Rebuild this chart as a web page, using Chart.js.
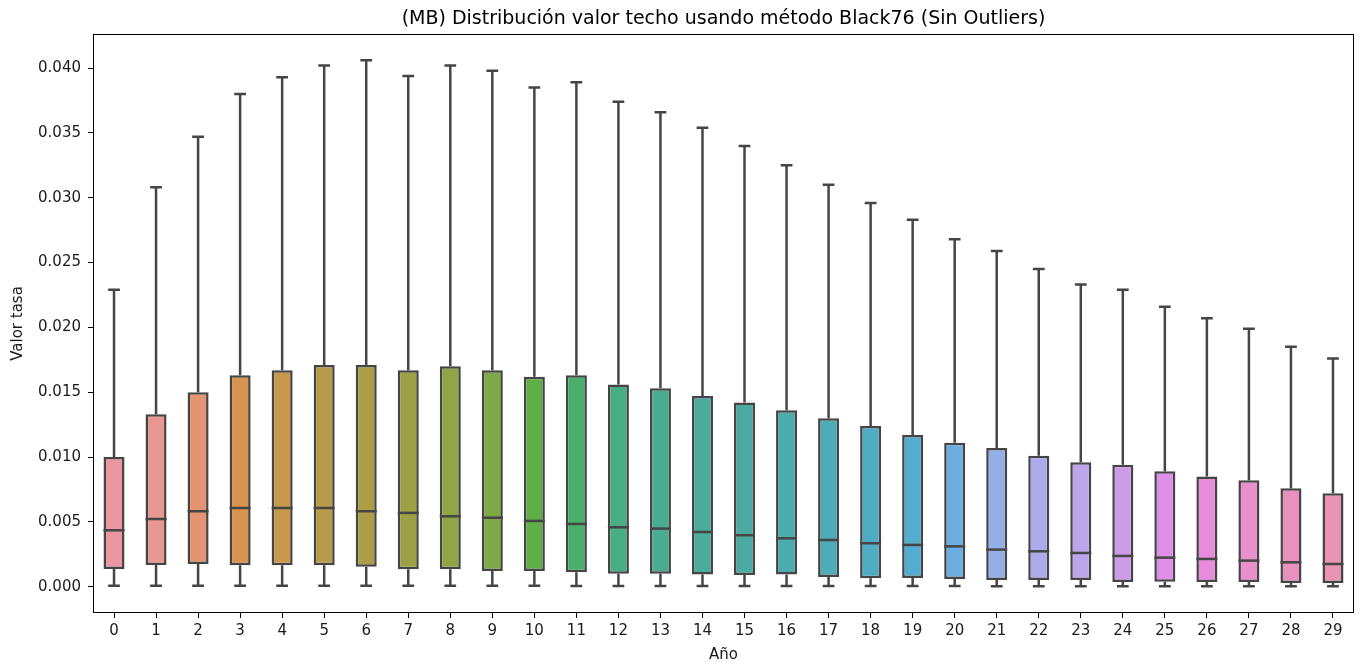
<!DOCTYPE html>
<html><head><meta charset="utf-8">
<script src="https://cdn.jsdelivr.net/npm/chart.js@4.4.1/dist/chart.umd.min.js"></script>
<style>html,body{margin:0;padding:0;background:#fff;}</style>
</head><body>
<canvas id="c" width="1360" height="667"></canvas>
<script>
// ---------------- DATA ----------------
const years = ['0','1','2','3','4','5','6','7','8','9','10','11','12','13','14','15','16','17','18','19','20','21','22','23','24','25','26','27','28','29'];
const whiskerHigh = [0.0229,0.0308,0.0347,0.0380,0.0393,0.0402,0.0406,0.0394,0.0402,0.0398,0.0385,0.0389,0.0374,0.0366,0.0354,0.0340,0.0325,0.0310,0.0296,0.0283,0.0268,0.0259,0.0245,0.0233,0.0229,0.0216,0.0207,0.0199,0.0185,0.0176];
const q3 = [0.0100,0.0133,0.0150,0.0163,0.0167,0.0171,0.0171,0.0167,0.0170,0.0167,0.0162,0.0163,0.0156,0.0153,0.0147,0.0142,0.0136,0.0130,0.0124,0.0117,0.0111,0.0107,0.0101,0.0096,0.0094,0.0089,0.0085,0.0082,0.0076,0.0072];
const median = [0.00435,0.00522,0.00582,0.00607,0.00607,0.00607,0.00582,0.00569,0.00543,0.00532,0.00507,0.00484,0.00458,0.00448,0.00422,0.00397,0.00373,0.00360,0.00335,0.00322,0.00311,0.00286,0.00273,0.00260,0.00237,0.00224,0.00214,0.00201,0.00188,0.00175];
const q1 = [0.00137,0.00167,0.00175,0.00165,0.00165,0.00165,0.00154,0.00134,0.00134,0.00121,0.00121,0.00111,0.00100,0.00100,0.00093,0.00090,0.00093,0.00075,0.00065,0.00067,0.00059,0.00052,0.00052,0.00052,0.00036,0.00039,0.00036,0.00036,0.00029,0.00029];
const whiskerLow = [0.00008,0.00008,0.00008,0.00008,0.00008,0.00008,0.00008,0.00007,0.00007,0.00007,0.00007,0.00006,0.00006,0.00006,0.00006,0.00006,0.00005,0.00005,0.00005,0.00005,0.00005,0.00004,0.00004,0.00004,0.00004,0.00004,0.00003,0.00003,0.00003,0.00003];
const yTicks = [0.000,0.005,0.010,0.015,0.020,0.025,0.030,0.035,0.040];
const titleText = '(MB) Distribución valor techo usando método Black76 (Sin Outliers)';
const xTitle = 'Año';
const yTitle = 'Valor tasa';

// ---------------- PALETTE (seaborn husl, l=.7, desat .75) ----------------
const M = [[3.2406,-1.5372,-0.4986],[-0.9689,1.8758,0.0415],[0.0557,-0.2040,1.0570]];
const refU = 0.19784, refV = 0.46834;
function maxChroma(L,H){
  const hr = H*Math.PI/180, sinH=Math.sin(hr), cosH=Math.cos(hr);
  const sub1 = Math.pow(L+16,3)/1560896.0;
  const sub2 = sub1>0.008856 ? sub1 : L/903.3;
  let res = Infinity;
  for(const row of M){
    const [m1,m2,m3]=row;
    const top=(0.99915*m1+1.05122*m2+1.14460*m3)*sub2;
    const rb=(0.86330*m3-0.17266*m2), lb=(0.12949*m3-0.38848*m1);
    const bottom=(rb*sinH+lb*cosH)*sub2;
    for(const t of [0,1]){
      const C = L*(top-1.05122*t)/(bottom+0.17266*sinH*t);
      if(C>0 && C<res) res=C;
    }
  }
  return res;
}
function fInv(t){ return Math.pow(t,3)>0.008856 ? Math.pow(t,3) : (116*t-16)/903.3; }
function fromLinear(c){ return c<=0.0031308 ? 12.92*c : 1.055*Math.pow(c,1/2.4)-0.055; }
function huslToRgb(H,S,L){
  const C = maxChroma(L,H)/100*S;
  const hr=H*Math.PI/180, U=Math.cos(hr)*C, V=Math.sin(hr)*C;
  const varY=fInv((L+16)/116), varU=U/(13*L)+refU, varV=V/(13*L)+refV;
  const Y=varY;
  const X=0-(9*Y*varU)/((varU-4)*varV-varU*varV);
  const Z=(9*Y-(15*varV*Y)-(varV*X))/(3*varV);
  return M.map(r=>Math.min(1,Math.max(0,fromLinear(r[0]*X+r[1]*Y+r[2]*Z))));
}
function rgbToHls(r,g,b){
  const mx=Math.max(r,g,b), mn=Math.min(r,g,b); const l=(mx+mn)/2;
  if(mx===mn) return [0,l,0];
  const d=mx-mn; const s = l<=0.5 ? d/(mx+mn) : d/(2-mx-mn);
  const rc=(mx-r)/d, gc=(mx-g)/d, bc=(mx-b)/d;
  let h; if(r===mx) h=bc-gc; else if(g===mx) h=2+rc-bc; else h=4+gc-rc;
  h=((h/6)%1+1)%1; return [h,l,s];
}
function vv(m1,m2,h){ h=((h%1)+1)%1; if(h<1/6) return m1+(m2-m1)*h*6; if(h<0.5) return m2; if(h<2/3) return m1+(m2-m1)*(2/3-h)*6; return m1; }
function hlsToRgb(h,l,s){ if(s===0) return [l,l,l]; const m2 = l<=0.5 ? l*(1+s) : l+s-l*s; const m1=2*l-m2; return [vv(m1,m2,h+1/3),vv(m1,m2,h),vv(m1,m2,h-1/3)]; }
const n = years.length;
const rgbCols = [];
for(let i=0;i<n;i++){
  let h = (i/n + 0.01)%1*359;
  const c = huslToRgb(h, 0.9*99, 0.7*99);
  const [hh,ll,ss] = rgbToHls(...c);
  rgbCols.push(hlsToRgb(hh,ll,ss*0.75));
}
const colors = rgbCols.map(c=>'rgb('+c.map(v=>Math.round(v*255)).join(',')+')');
const lum = Math.min(...rgbCols.map(c=>rgbToHls(...c)[1]))*0.6;
const gray = 'rgb('+[lum,lum,lum].map(v=>Math.round(v*255)).join(',')+')';

// ---------------- CHART ----------------
Chart.defaults.font.family = 'DejaVu Sans';
Chart.defaults.font.size = 15;
Chart.defaults.color = '#1a1a1a';

const LW = 2.5;
const boxExtras = {
  id:'boxExtras',
  beforeDatasetsDraw(chart){
    const ctx=chart.ctx, y=chart.scales.y, meta=chart.getDatasetMeta(0);
    ctx.save(); ctx.strokeStyle=gray; ctx.lineWidth=LW; ctx.lineCap='butt';
    meta.data.forEach((bar,i)=>{
      const x=bar.x, w=bar.width, cw=w*0.28;
      const yh=y.getPixelForValue(whiskerHigh[i]), y3=y.getPixelForValue(q3[i]);
      const yl=y.getPixelForValue(whiskerLow[i]), y1=y.getPixelForValue(q1[i]);
      ctx.beginPath();
      ctx.moveTo(x,y3); ctx.lineTo(x,yh);
      ctx.moveTo(x-cw,yh); ctx.lineTo(x+cw,yh);
      ctx.moveTo(x,y1); ctx.lineTo(x,yl);
      ctx.moveTo(x-cw,yl); ctx.lineTo(x+cw,yl);
      ctx.stroke();
    });
    ctx.restore();
  },
  afterDatasetsDraw(chart){
    const ctx=chart.ctx, y=chart.scales.y, meta=chart.getDatasetMeta(0);
    ctx.save(); ctx.strokeStyle=gray; ctx.lineWidth=LW;
    meta.data.forEach((bar,i)=>{
      const x=bar.x, w=bar.width, ym=y.getPixelForValue(median[i]);
      ctx.beginPath(); ctx.moveTo(x-w/2,ym); ctx.lineTo(x+w/2,ym); ctx.stroke();
    });
    ctx.restore();
  },
  afterDraw(chart){
    const ctx=chart.ctx, a=chart.chartArea;
    ctx.save();
    ctx.strokeStyle='#000'; ctx.lineWidth=1;
    ctx.strokeRect(Math.round(a.left)+0.5, Math.round(a.top)+0.5, Math.round(a.right-a.left)-1, Math.round(a.bottom-a.top)-1);
    ctx.fillStyle='#000'; ctx.font='19px "DejaVu Sans"'; ctx.textAlign='center'; ctx.textBaseline='middle';
    ctx.fillText(titleText,(a.left+a.right)/2,19);
    ctx.restore();
  }
};

new Chart(document.getElementById('c'),{
  type:'bar',
  data:{labels:years, datasets:[{
    data: years.map((_,i)=>[q1[i],q3[i]]),
    backgroundColor: colors, borderColor: gray, borderWidth: LW, borderSkipped:false,
    categoryPercentage:1.0, barPercentage:0.5
  }]},
  options:{
    responsive:false, animation:false, devicePixelRatio:1,
    layout:{padding:{top:34,right:6,left:0,bottom:0}},
    plugins:{legend:{display:false}, tooltip:{enabled:false}, title:{display:false}},
    scales:{
      x:{
        grid:{display:true, drawOnChartArea:false, drawTicks:true, tickLength:5, color:'#000', offset:false},
        border:{display:false},
        ticks:{padding:4, maxRotation:0, autoSkip:false, color:'#1a1a1a'},
        title:{display:true, text:xTitle, color:'#1a1a1a', padding:{top:0,bottom:3}},
        afterFit(s){ s.height=54; }
      },
      y:{
        min:-0.00203, max:0.04263,
        grid:{display:true, drawOnChartArea:false, drawTicks:true, tickLength:5, color:'#000'},
        border:{display:false},
        ticks:{padding:7, color:'#1a1a1a', callback:v=>Number(v).toFixed(3)},
        afterBuildTicks(s){ s.ticks = yTicks.map(v=>({value:v})); },
        title:{display:true, text:yTitle, color:'#1a1a1a', padding:{top:9,bottom:0}},
        afterFit(s){ s.width=93; }
      }
    }
  },
  plugins:[boxExtras]
});
</script>
</body></html>
